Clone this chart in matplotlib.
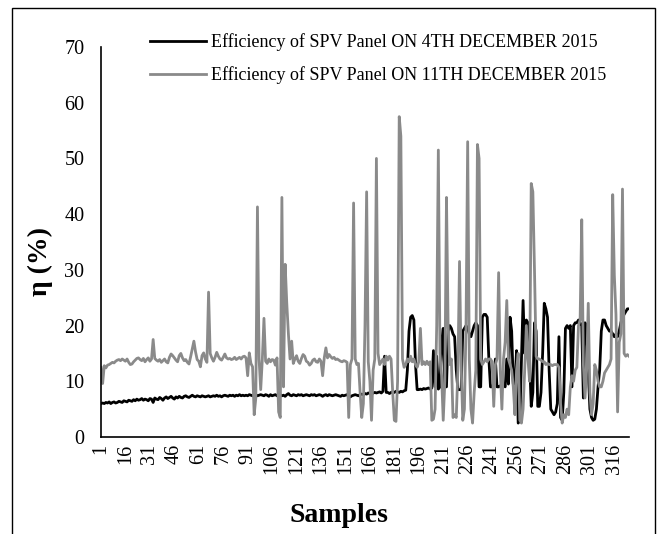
import matplotlib
matplotlib.use('Agg')
import numpy as np
import matplotlib.pyplot as plt
from matplotlib.patches import Rectangle

# Efficiency (%) on 11th December 2015, samples 1..325
eff_dec11 = [
    12.5, 9.6, 12.8, 12.4, 12.9, 13.0, 13.2, 13.4, 13.3, 13.6,
    13.8, 13.9, 13.7, 14.0, 13.8, 13.6, 14.0, 13.4, 13.0, 13.1,
    13.5, 13.8, 14.1, 14.2, 13.9, 13.7, 14.1, 13.5, 13.9, 14.2,
    13.6, 14.0, 17.5, 14.1, 13.8, 13.6, 13.9, 13.4, 13.7, 14.0,
    13.5, 13.3, 14.3, 14.9, 14.6, 14.2, 13.8, 13.5, 14.6, 15.0,
    14.2, 13.7, 13.9, 13.4, 13.1, 14.4, 15.8, 17.2, 15.3, 13.9,
    13.6, 12.6, 14.6, 15.1, 14.0, 13.4, 26.0, 15.0, 14.2, 13.6,
    14.3, 15.2, 14.5, 14.0, 13.8, 14.3, 14.9, 14.2, 14.0, 14.1,
    13.9, 14.0, 14.3, 13.9, 14.1, 14.3, 14.0, 14.4, 14.5, 14.2,
    11.0, 15.1, 13.2, 12.6, 4.0, 7.0, 41.3, 14.0, 8.5, 14.0,
    21.3, 13.6, 13.2, 14.0, 13.5, 13.9, 13.8, 12.9, 14.2, 4.5,
    3.5, 43.0, 9.0, 31.0, 24.0, 18.5, 14.0, 17.2, 13.2, 14.0,
    14.6, 13.6, 13.2, 14.1, 14.8, 14.5, 13.6, 13.4, 12.9, 13.2,
    13.8, 14.0, 13.5, 13.4, 14.0, 13.6, 11.0, 14.2, 16.0, 14.2,
    14.8, 14.4, 14.1, 14.3, 13.9, 14.0, 13.8, 13.6, 13.5, 13.7,
    13.6, 13.4, 3.5, 13.0, 14.0, 42.0, 14.0, 13.0, 13.2, 8.0,
    3.5, 6.0, 20.0, 44.0, 13.5, 10.0, 3.0, 12.0, 14.0, 50.0,
    15.0, 13.0, 13.5, 14.0, 13.0, 14.5, 13.8, 14.5, 14.0, 8.0,
    3.0, 2.8, 10.0, 57.5, 54.0, 14.0, 12.5, 13.0, 14.0, 13.5,
    14.5, 13.5, 14.0, 13.0, 12.5, 13.5, 19.5, 13.0, 13.5, 13.0,
    13.6, 13.0, 13.5, 3.0, 3.2, 5.0, 20.0, 51.5, 15.0, 11.0,
    3.0, 10.0, 43.0, 20.0, 13.0, 14.0, 3.5, 4.0, 3.5, 12.0,
    31.5, 13.0, 3.0, 5.0, 20.0, 53.0, 14.0, 5.0, 2.5, 8.0,
    12.0, 52.5, 50.0, 14.0, 13.0, 13.5, 14.0, 13.5, 14.0, 14.0,
    13.5, 5.5, 13.0, 14.0, 29.5, 12.0, 5.0, 14.0, 17.0, 24.5,
    14.0, 13.0, 12.0, 9.0, 4.0, 12.0, 15.0, 3.0, 2.5, 5.0,
    12.0, 20.0, 14.0, 10.0, 45.5, 44.0, 30.0, 14.5, 14.0, 14.0,
    13.8, 13.5, 13.5, 13.0, 13.2, 13.0, 13.0, 12.8, 13.0, 13.0,
    13.0, 12.5, 6.0, 2.5, 4.0, 3.5, 5.0, 4.0, 9.0, 11.0,
    10.0, 12.0, 12.5, 20.0, 21.0, 39.0, 13.0, 7.0, 12.0, 24.0,
    8.0, 4.0, 6.0, 13.0, 12.0, 10.0, 9.0, 9.0, 10.0, 11.5,
    12.0, 12.5, 13.0, 14.0, 43.5, 29.0, 22.0, 4.5, 17.0, 18.5,
    44.5, 15.0, 14.5, 14.8, 14.5,
]

# Efficiency (%) on 4th December 2015, samples 1..325
eff_dec4 = [
    6.0, 6.1, 6.0, 6.2, 6.1, 6.3, 6.0, 6.2, 6.3, 6.1,
    6.2, 6.4, 6.3, 6.2, 6.5, 6.4, 6.3, 6.6, 6.5, 6.4,
    6.7, 6.5, 6.8, 6.6, 6.7, 6.9, 6.6, 6.8, 6.7, 6.5,
    6.9, 6.8, 6.2, 7.0, 6.8, 6.7, 7.1, 6.9, 6.6, 7.0,
    7.2, 6.9, 7.1, 7.3, 7.0, 6.8, 7.2, 7.0, 7.3, 7.1,
    7.0, 7.3, 7.4, 7.2, 7.1, 7.3, 7.5, 7.3, 7.2, 7.4,
    7.3, 7.2, 7.4, 7.3, 7.2, 7.3, 7.4, 7.2, 7.3, 7.4,
    7.3, 7.5, 7.3, 7.4, 7.2, 7.4, 7.5, 7.4, 7.3, 7.5,
    7.4, 7.5, 7.3, 7.5, 7.4, 7.6, 7.4, 7.5, 7.4, 7.5,
    7.4, 7.6, 7.5, 7.4, 7.5, 7.6, 7.4, 7.5, 7.6, 7.5,
    7.4, 7.6, 7.5, 7.3, 7.6, 7.4, 7.5, 7.6, 7.4, 7.5,
    7.6, 7.4, 7.5, 7.3, 7.6, 7.8, 7.5, 7.4, 7.6, 7.5,
    7.4, 7.6, 7.5, 7.6, 7.4, 7.5, 7.6, 7.5, 7.4, 7.6,
    7.5, 7.6, 7.4, 7.5, 7.6, 7.5, 7.3, 7.5, 7.6, 7.4,
    7.6, 7.5, 7.4, 7.5, 7.6, 7.5, 7.4, 7.3, 7.5, 7.4,
    7.5, 7.6, 7.3, 7.2, 7.4, 7.5, 7.6, 7.5, 7.4, 7.6,
    7.7, 7.6, 7.8, 7.7, 7.9, 7.8, 7.7, 7.9, 8.0, 7.9,
    8.0, 8.1, 7.9, 8.2, 14.5, 8.0, 8.0, 7.8, 8.0, 8.1,
    8.0, 8.2, 8.1, 8.0, 8.2, 8.1, 8.3, 8.4, 12.0, 19.0,
    21.5, 21.8, 21.0, 13.0, 8.5, 8.5, 8.6, 8.5, 8.7, 8.6,
    8.7, 8.8, 8.6, 8.8, 15.5, 9.0, 14.5, 8.6, 9.0, 17.0,
    19.5, 9.0, 9.0, 19.0, 20.0, 19.5, 18.5, 18.0, 12.0, 8.5,
    8.5, 8.5, 19.0, 19.5, 20.0, 19.5, 18.5, 18.0, 19.0, 20.0,
    20.5, 20.0, 9.0, 9.0, 21.5, 22.0, 22.0, 21.5, 14.0, 9.0,
    9.0, 9.5, 14.0, 9.0, 9.0, 9.2, 9.0, 9.5, 9.0, 14.0,
    9.5, 21.5, 19.0, 9.5, 9.5, 15.5, 2.5, 3.0, 14.0, 24.5,
    15.0, 21.0, 20.5, 14.0, 5.5, 8.0, 20.5, 19.0, 5.5, 5.5,
    8.0, 15.0, 24.0, 23.0, 21.5, 12.0, 5.0, 4.5, 4.0, 4.5,
    6.0, 18.0, 3.5, 3.0, 8.0, 19.5, 20.0, 19.5, 20.0, 9.0,
    20.0, 20.5, 20.5, 21.0, 20.5, 20.0, 7.0, 20.5, 20.0, 12.0,
    5.0, 3.5, 3.0, 3.2, 5.0, 9.0, 12.0, 19.0, 21.0, 21.0,
    20.0, 19.5, 19.0, 19.0, 18.5, 18.0, 18.5, 18.0, 19.0, 20.5,
    21.5, 22.0, 22.5, 23.0, 23.0,
]

samples = np.arange(1, len(eff_dec4) + 1)
xtick_labels = list(range(1, 317, 15))

LABEL_4 = 'Efficiency of SPV Panel ON 4TH DECEMBER 2015'
LABEL_11 = 'Efficiency of SPV Panel ON 11TH DECEMBER 2015'

plt.rcParams['font.family'] = ['Liberation Serif', 'DejaVu Serif']

fig = plt.figure(figsize=(6.65, 5.34), dpi=100)
ax = fig.add_axes([101 / 665, 1 - 437 / 534, (629 - 101) / 665, (437 - 47) / 534])

ax.plot(samples, eff_dec4, color='black', linewidth=2.0, label=LABEL_4)
ax.plot(samples, eff_dec11, color='#8a8a8a', linewidth=2.0, label=LABEL_11)

ax.set_xlim(1, len(samples))
ax.set_ylim(0, 70)
ax.set_yticks(range(0, 71, 10))
ax.set_xticks(xtick_labels)
ax.set_xticklabels([str(v) for v in xtick_labels], rotation=90, fontsize=14.5)
ax.tick_params(axis='y', labelsize=14.5, length=0, pad=12)
ax.tick_params(axis='x', length=0, pad=5)

for side in ['top', 'right']:
    ax.spines[side].set_visible(False)
ax.spines['left'].set_linewidth(1.2)
ax.spines['bottom'].set_linewidth(1.2)

# axis titles placed like the reference chart
fig.text(339 / 665, 1 - 515 / 534, 'Samples', fontsize=20, fontweight='bold',
         ha='center', va='center')
fig.text(40 / 665, 1 - 262 / 534, 'η (%)', fontsize=20, fontweight='bold',
         ha='center', va='center', rotation=90)

leg = ax.legend(loc='upper left', bbox_to_anchor=(150 / 665, 1 - 33 / 534),
                bbox_transform=fig.transFigure, frameon=False, fontsize=13,
                handlelength=3.1, handletextpad=0.3, labelspacing=0.85,
                borderpad=0, borderaxespad=0)

# outer frame
fig.patches.append(Rectangle((12 / 665, -0.05), (655 - 12) / 665, 1.05 - 8 / 534,
                             transform=fig.transFigure, fill=False,
                             edgecolor='black', linewidth=1.0))

plt.savefig('out.png', dpi=100)
plt.close()
